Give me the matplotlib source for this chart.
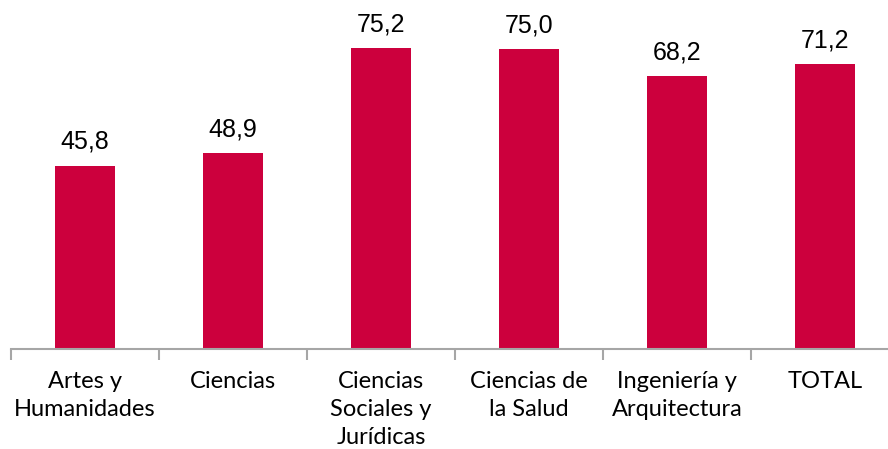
import matplotlib.pyplot as plt
import numpy as np

categories = ["Artes y\nHumanidades", "Ciencias", "Ciencias\nSociales y\nJurídicas",
              "Ciencias de\nla Salud", "Ingeniería y\nArquitectura", "TOTAL"]
values = [45.8, 48.9, 75.2, 75.0, 68.2, 71.2]
value_labels = ["45,8", "48,9", "75,2", "75,0", "68,2", "71,2"]

bar_color = "#CC003D"
axis_color = "#A6A6A6"

fig = plt.figure(figsize=(8.88, 4.49), dpi=100)
# axes spans beyond right edge so ticks match spacing of the original
ax = fig.add_axes([11 / 888, 100 / 449, 888 / 888, 349 / 449])

x = np.arange(len(categories))
ax.bar(x, values, width=0.4, color=bar_color, zorder=2)
ax.set_xlim(-0.5, len(categories) - 0.5)
ax.set_ylim(0, 87.25)

for xi, v, lab in zip(x, values, value_labels):
    ax.annotate(lab, (xi, v), xytext=(0, 12), textcoords="offset pixels",
                ha="center", va="bottom", fontsize=18, family="Liberation Sans",
                annotation_clip=False)

for s in ["top", "right", "left"]:
    ax.spines[s].set_visible(False)
ax.spines["bottom"].set_color(axis_color)
ax.spines["bottom"].set_linewidth(1.5)
ax.set_yticks([])

ax.set_xticks(np.arange(len(categories) + 1) - 0.5)
ax.set_xticklabels([])
ax.tick_params(axis="x", length=8, width=1.5, color=axis_color)
for xi, lab in zip(x, categories):
    ax.text(xi, -5.5, lab, ha="center", va="top", fontsize=17, family="Lato",
            linespacing=1.42, transform=ax.transData)

fig.savefig("out.png", dpi=100)
